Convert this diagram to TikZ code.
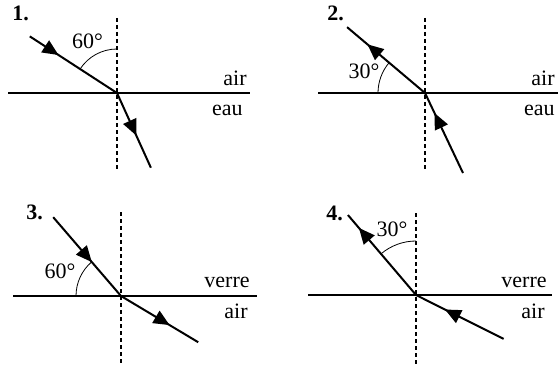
\documentclass[tikz,border=0pt]{standalone}
\usepackage{fontspec}
\setmainfont{Liberation Serif}
\usetikzlibrary{arrows.meta,decorations.markings,calc}
\begin{document}
\begin{tikzpicture}[x=0.5pt,y=0.5pt,
  ray/.style={line width=1pt},
  iface/.style={line width=0.6pt},
  normal/.style={line width=0.6pt,dash pattern=on 2.2pt off 1.3pt},
  anglearc/.style={line width=0.4pt},
  lbl/.style={font=\fontsize{11}{13}\selectfont,inner sep=0pt},
  num/.style={font=\fontsize{11}{13}\selectfont\bfseries,inner sep=0pt,anchor=base west},
  arr/.style={postaction={decorate,decoration={markings,mark=at position #1 with {\arrow{Triangle[length=8pt,width=7pt]}}}}}]
\useasboundingbox (0,0) rectangle (560,365);
% ---------- panel 1
\coordinate (O1) at (117,272);
\coordinate (A1) at ($(O1)+(147:104)$);
\coordinate (B1) at ($(O1)+(-65.6:82)$);
\coordinate (L1a) at (8,272); \coordinate (L1b) at (250,272);
\coordinate (N1a) at (117,347); \coordinate (N1b) at (117,195);
\draw[iface] (L1a) -- (L1b);
\draw[normal] (N1a) -- (N1b);
\draw[ray,arr=0.33] (A1) -- (O1);
\draw[ray,arr=0.57] (O1) -- (B1);
\draw[anglearc] ($(O1)+(90:44)$) arc[start angle=90,end angle=147,radius=44];
\node[num] (n1) at (12,344) {1.};
\node[lbl,anchor=base] (a1) at (87.5,317) {60°};
\node[lbl,anchor=base east] (m1a) at (247,280) {air};
\node[lbl,anchor=base east] (m1b) at (243,250) {eau};
% ---------- panel 2
\coordinate (O2) at (425,272);
\coordinate (A2) at ($(O2)+(139.8:102)$);
\coordinate (B2) at ($(O2)+(-64.6:88.6)$);
\coordinate (L2a) at (318,272); \coordinate (L2b) at (558,272);
\coordinate (N2a) at (425,347); \coordinate (N2b) at (425,195);
\draw[iface] (L2a) -- (L2b);
\draw[normal] (N2a) -- (N2b);
\draw[ray,arr=0.74] (O2) -- (A2);
\draw[ray,arr=0.75] (B2) -- (O2);
\draw[anglearc] ($(O2)+(180:47)$) arc[start angle=180,end angle=139.8,radius=47];
\node[num] (n2) at (327,344) {2.};
\node[lbl,anchor=base] (a2) at (364,287) {30°};
\node[lbl,anchor=base east] (m2a) at (555,280) {air};
\node[lbl,anchor=base east] (m2b) at (555,250) {eau};
% ---------- panel 3
\coordinate (O3) at (121,69);
\coordinate (A3) at ($(O3)+(130.7:104)$);
\coordinate (B3) at ($(O3)+(-30.9:90)$);
\coordinate (L3a) at (13,69); \coordinate (L3b) at (257,69);
\coordinate (N3a) at (121,153); \coordinate (N3b) at (121,0);
\draw[iface] (L3a) -- (L3b);
\draw[normal] (N3a) -- (N3b);
\draw[ray,arr=0.57] (A3) -- (O3);
\draw[ray,arr=0.63] (O3) -- (B3);
\draw[anglearc] ($(O3)+(180:45)$) arc[start angle=180,end angle=130.7,radius=45];
\node[num] (n3) at (26,146) {3.};
\node[lbl,anchor=base] (a3) at (60,87) {60°};
\node[lbl,anchor=base east] (m3a) at (250,78) {verre};
\node[lbl,anchor=base east] (m3b) at (248,47) {air};
% ---------- panel 4
\coordinate (O4) at (416,70);
\coordinate (A4) at ($(O4)+(130.4:105)$);
\coordinate (B4) at ($(O4)+(-26.6:98)$);
\coordinate (L4a) at (308,70); \coordinate (L4b) at (552,70);
\coordinate (N4a) at (416,152); \coordinate (N4b) at (416,0);
\draw[iface] (L4a) -- (L4b);
\draw[normal] (N4a) -- (N4b);
\draw[ray,arr=0.84] (O4) -- (A4);
\draw[ray,arr=0.67] (B4) -- (O4);
\draw[anglearc] ($(O4)+(90:54)$) arc[start angle=90,end angle=130.4,radius=54];
\node[num] (n4) at (326,145) {4.};
\node[lbl,anchor=base] (a4) at (392,129) {30°};
\node[lbl,anchor=base east] (m4a) at (547,78) {verre};
\node[lbl,anchor=base east] (m4b) at (545,47) {air};
\end{tikzpicture}
\end{document}
